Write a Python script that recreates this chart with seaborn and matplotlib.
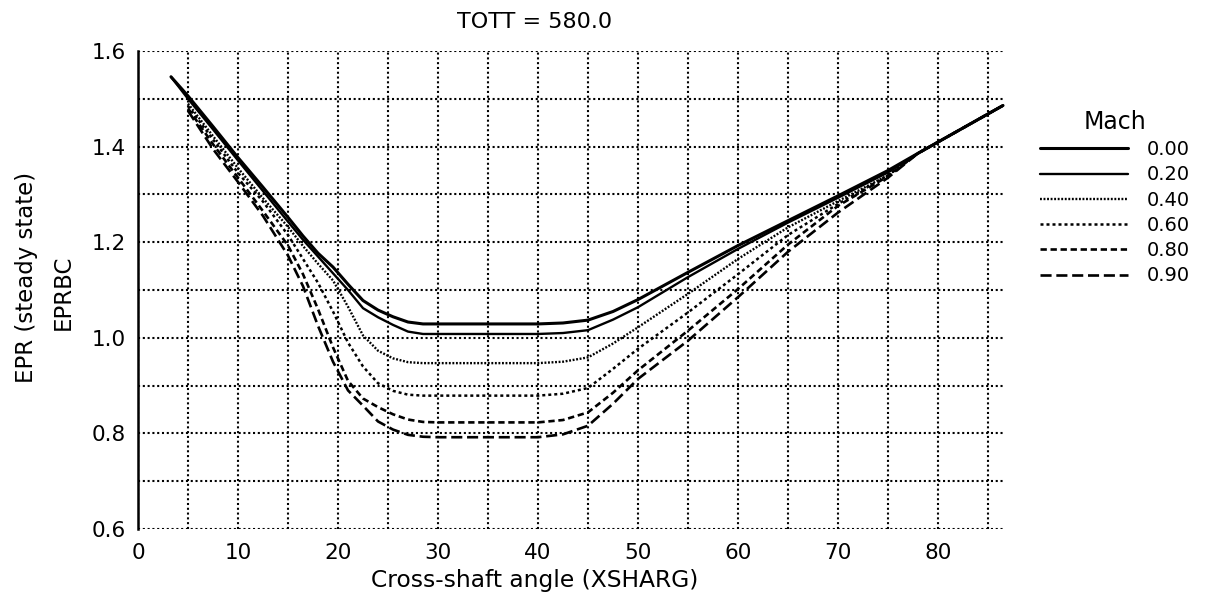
import matplotlib
matplotlib.use("Agg")
import matplotlib.pyplot as plt
from matplotlib.ticker import MultipleLocator, FormatStrFormatter
import numpy as np
import pandas as pd
import seaborn as sns

# ---------------- data ----------------
angle = [3.3, 5, 7.5, 10, 12.5, 15, 16.5, 18, 19.5, 21, 22.5, 24, 25.5, 27, 28.5,
         30, 40, 42.5, 45, 47.5, 50, 55, 60, 65, 70, 75, 78, 86.5]

mach_labels = ["0.00", "0.20", "0.40", "0.60", "0.80", "0.90"]

epr_m000 = [1.546, 1.506, 1.442, 1.377, 1.315, 1.252, 1.213, 1.177, 1.148, 1.112, 1.078,
            1.058, 1.044, 1.033, 1.029, 1.029, 1.029, 1.031, 1.037, 1.055, 1.080,
            1.137, 1.193, 1.245, 1.297, 1.350, 1.386, 1.486]
epr_m020 = [1.546, 1.500, 1.436, 1.371, 1.307, 1.243, 1.205, 1.170, 1.135, 1.100, 1.062,
            1.043, 1.027, 1.013, 1.008, 1.008, 1.008, 1.010, 1.016, 1.038, 1.064,
            1.127, 1.186, 1.241, 1.293, 1.346, 1.386, 1.486]
epr_m040 = [np.nan, 1.490, 1.422, 1.355, 1.292, 1.232, 1.192, 1.155, 1.120, 1.065, 1.005,
            0.973, 0.957, 0.949, 0.947, 0.947, 0.947, 0.950, 0.959, 0.988, 1.022,
            1.092, 1.165, 1.231, 1.286, 1.340, 1.386, 1.486]
epr_m060 = [np.nan, 1.485, 1.415, 1.345, 1.285, 1.215, 1.165, 1.115, 1.055, 0.990, 0.940,
            0.905, 0.889, 0.881, 0.879, 0.879, 0.879, 0.883, 0.895, 0.935, 0.977,
            1.053, 1.133, 1.215, 1.280, 1.340, 1.386, 1.486]
epr_m080 = [np.nan, 1.480, 1.405, 1.335, 1.265, 1.193, 1.133, 1.060, 0.980, 0.910, 0.873,
            0.855, 0.840, 0.829, 0.824, 0.823, 0.823, 0.828, 0.844, 0.885, 0.932,
            1.015, 1.102, 1.195, 1.276, 1.338, 1.386, 1.486]
epr_m090 = [np.nan, 1.475, 1.395, 1.326, 1.255, 1.172, 1.108, 1.025, 0.950, 0.890, 0.858,
            0.825, 0.808, 0.797, 0.793, 0.792, 0.792, 0.798, 0.816, 0.862, 0.914,
            0.994, 1.085, 1.180, 1.262, 1.335, 1.386, 1.486]

series = [epr_m000, epr_m020, epr_m040, epr_m060, epr_m080, epr_m090]

frames = []
for lab, vals in zip(mach_labels, series):
    frames.append(pd.DataFrame({"angle": angle, "epr": vals, "mach": lab}))
df = pd.concat(frames, ignore_index=True).dropna()

# ---------------- styles ----------------
line_styles = {
    "0.00": dict(linestyle="-", linewidth=2.2),
    "0.20": dict(linestyle="-", linewidth=1.7),
    "0.40": dict(linestyle=(0, (0.8, 0.7)), linewidth=1.7),
    "0.60": dict(linestyle=(0, (1.2, 1.2)), linewidth=1.8),
    "0.80": dict(linestyle=(0, (2.4, 1.4)), linewidth=1.9),
    "0.90": dict(linestyle=(0, (4.2, 1.8)), linewidth=1.9),
}

sns.set_theme(style="white")
plt.rcParams["font.family"] = ["DejaVu Sans"]
plt.rcParams["text.color"] = "black"
plt.rcParams["axes.labelcolor"] = "black"
plt.rcParams["xtick.color"] = "black"
plt.rcParams["ytick.color"] = "black"

W, H = 1211, 608
fig = plt.figure(figsize=(W / 100, H / 100), dpi=100)
ax = fig.add_axes([138 / W, 1 - 529 / H, (1005 - 138) / W, (529 - 51) / H])

for lab in mach_labels:
    sub = df[df["mach"] == lab]
    sns.lineplot(data=sub, x="angle", y="epr", ax=ax, color="black",
                 estimator=None, sort=False, label=lab, **line_styles[lab])

ax.set_xlim(0, 86.7)
ax.set_ylim(0.6, 1.6)
ax.xaxis.set_major_locator(MultipleLocator(10))
ax.xaxis.set_minor_locator(MultipleLocator(5))
ax.yaxis.set_major_locator(MultipleLocator(0.2))
ax.yaxis.set_minor_locator(MultipleLocator(0.1))
ax.yaxis.set_major_formatter(FormatStrFormatter("%.1f"))

ax.set_axisbelow(True)
ax.grid(which="both", color="black", linestyle=(0, (1, 1.3)), linewidth=1.5)
for s in ["top", "right", "bottom"]:
    ax.spines[s].set_visible(False)
ax.spines["left"].set_color("black")
ax.spines["left"].set_linewidth(1.8)

ax.tick_params(which="both", length=0, labelsize=15.5, colors="black",
               labelcolor="black")
ax.tick_params(axis="x", pad=10)
ax.tick_params(axis="y", pad=9)
ax.set_xlabel("")
ax.set_ylabel("")

fig.text(535 / W, 1 - 22 / H, "TOTT = 580.0", ha="center", va="center",
         fontsize=16, color="black")
fig.text(535 / W, 1 - 580 / H, "Cross-shaft angle (XSHARG)", ha="center", va="center",
         fontsize=16.8, color="black")
fig.text(27 / W, 1 - 277 / H, "EPR (steady state)", ha="center", va="center",
         rotation=90, fontsize=16.5, color="black")
fig.text(63 / W, 1 - 292 / H, "EPRBC", ha="center", va="center", rotation=90,
         fontsize=16.5, color="black")

leg = ax.legend(loc="upper left", bbox_to_anchor=(1040 / W, 1 - 110 / H),
                bbox_transform=fig.transFigure, frameon=False, title="Mach",
                fontsize=14, title_fontsize=17, handlelength=4.5, handletextpad=1.0,
                labelspacing=0.32, borderpad=0, borderaxespad=0)
for t in leg.get_texts():
    t.set_color("black")
leg.get_title().set_color("black")

fig.savefig("out.png", dpi=100)
